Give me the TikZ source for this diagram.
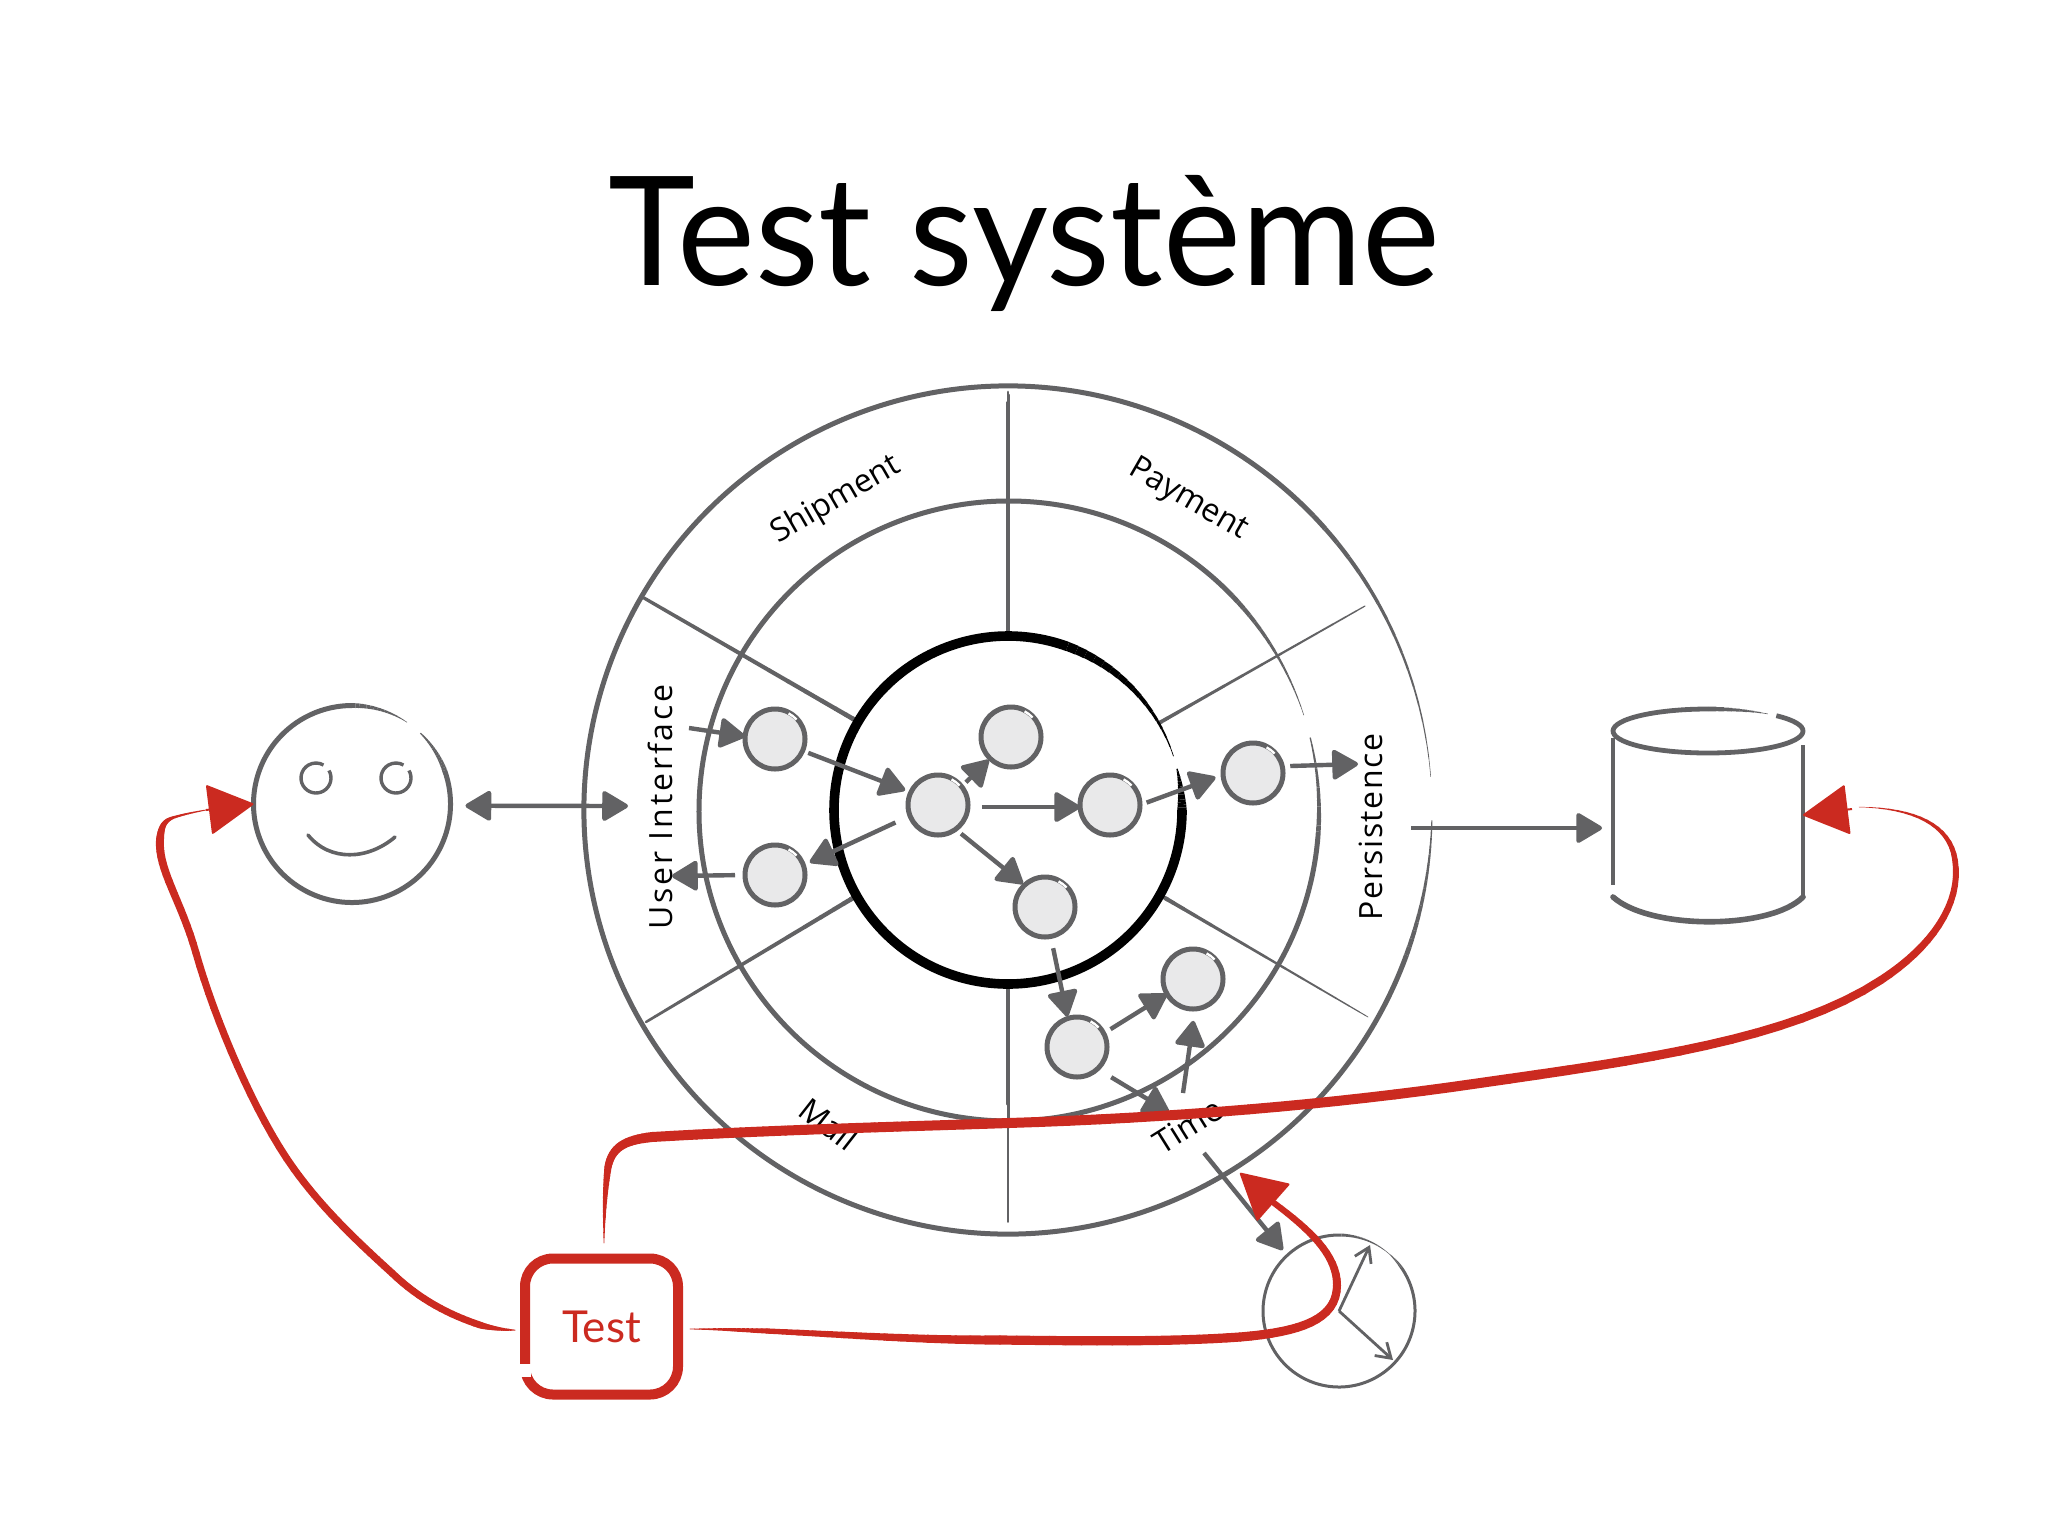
\documentclass[tikz,border=0pt]{standalone}
\usepackage{fontspec}
\setmainfont{Lato}
\newfontfamily\titlefont[FakeStretch=0.97]{Lato}
\newfontfamily\handfont{Open Sans}
\newfontfamily\handwide[LetterSpace=9]{Open Sans}
\newfontfamily\handmid[LetterSpace=5]{Open Sans}
\usetikzlibrary{arrows.meta,calc}
\definecolor{inkgrey}{HTML}{626264}
\definecolor{nodefill}{HTML}{E9E9EA}
\definecolor{brushred}{HTML}{CB2A20}
% tapered brush strokes
\newcommand\brushcurve[7]{%
  \foreach \i in {1,...,16}{%
    \pgfmathsetmacro\myta{(\i-1)/16}\pgfmathsetmacro\mytb{\i/16}%
    \pgfmathsetmacro\mywid{#6+(#7-#6)*(\i-0.5)/16}%
    \path (#2) .. controls (#3) and (#4) .. coordinate[pos=\myta](bA) coordinate[pos=\mytb](bB) (#5);
    \draw[#1,line width=\mywid pt,line cap=round] (bA)--(bB);
  }}
\newcommand\brushline[5]{\brushcurve{#1}{#2}{#2}{#3}{#3}{#4}{#5}}
\newcommand\brusharc[7]{%
  \foreach \i in {1,...,16}{%
    \pgfmathsetmacro\myaa{#4+(#5-#4)*(\i-1)/16}\pgfmathsetmacro\mybb{#4+(#5-#4)*\i/16}%
    \pgfmathsetmacro\mywid{#6+(#7-#6)*(\i-0.5)/16}%
    \draw[#1,line width=\mywid pt] (#2) ++(\myaa:#3) arc[start angle=\myaa,end angle=\mybb,radius=#3];
  }}
\tikzset{
  x=0.5pt,y=-0.5pt,
  ring/.style={draw=inkgrey,line width=2.5pt},
  compnode/.style={circle,draw=inkgrey,fill=nodefill,line width=2.5pt,minimum size=30pt,inner sep=0pt,outer sep=0pt},
  holder/.style={circle,inner sep=0pt,outer sep=0pt},
  arr/.style={draw=inkgrey,line width=2.2pt,-{Triangle[length=14pt,width=16pt,round]}},
  bothways/.style={draw=inkgrey,line width=2.2pt,{Triangle[length=14pt,width=16pt,round]}-{Triangle[length=14pt,width=16pt,round]}},
  hand/.style={draw=inkgrey,line width=1.4pt,-{Straight Barb[length=7pt,width=9pt]}},
  redhead/.style={draw=brushred,line width=1pt,-{Triangle[length=23pt,width=25pt,round]}},
  seglabel/.style={font=\handfont\fontsize{16}{18}\selectfont,text=black,inner sep=0pt},
  testbox/.style={draw=brushred,line width=5pt,rounded corners=14pt,minimum width=76.5pt,minimum height=68pt,inner sep=0pt,outer sep=0pt,
    font=\fontsize{22}{26}\selectfont,text=brushred},
}
\begin{document}
\begin{tikzpicture}
\useasboundingbox[fill=white] (0,0) rectangle (2048,1536);
\node[anchor=base,inner sep=0pt,font=\titlefont\fontsize{76}{90}\selectfont] (title) at (1024,285) {Test système};

% --- system rings
\coordinate (c) at (1008,810);
\draw[ring] (c) ++(20:424) arc[start angle=20,end angle=316,radius=424];
\brusharc{inkgrey}{c}{424}{-44}{-4.5}{2.5}{0.2}
\brusharc{inkgrey}{c}{424}{1.4}{20}{0.5}{2.5}
\coordinate (cm) at (1009,811);
\draw[ring] (cm) ++(5:310) arc[start angle=5,end angle=316,radius=310];
\brusharc{inkgrey}{cm}{310}{-44}{-18}{2.5}{0.2}
\brusharc{inkgrey}{cm}{310}{-13.7}{5}{0.6}{2.5}
% spokes
\brushline{inkgrey}{1008,392}{1008,637}{1.4}{2.4}
\brushline{inkgrey}{1008,986}{1008,1222}{2.4}{0.7}
\brushline{inkgrey}{644,598}{855,720}{1.6}{2.4}
\brushline{inkgrey}{1365,606}{1159,723}{0.5}{2.0}
\brushline{inkgrey}{646,1022}{853,898}{1.2}{2.4}
\brushline{inkgrey}{1165,898}{1368,1017}{2.2}{0.3}
% core
\draw[black,line width=4.8pt] (c) ++(0:174) arc[start angle=0,end angle=290,radius=174];
\brusharc{black}{c}{174}{-70}{-18}{4.8}{0.2}
\brusharc{black}{c}{174}{-13.7}{0}{0.6}{4.8}

% --- segment labels
\node[seglabel,rotate=30] (shipment) at (836,500) {Shipment};
\node[seglabel,rotate=-30] (payment) at (1188,500) {Payment};
\node[seglabel,rotate=90,font=\handwide\fontsize{16}{18}\selectfont] (ui) at (660,807) {User Interface};
\node[seglabel,rotate=90,font=\handmid\fontsize{16}{18}\selectfont] (persistence) at (1371,827) {Persistence};
\node[seglabel,rotate=-38] (mail) at (829,1124) {Mail};
\node[seglabel,rotate=32] (time) at (1188,1126) {Time};

% --- components
\node[compnode] (n1) at (775,739) {};
\node[compnode] (n2) at (775,875) {};
\node[compnode] (n3) at (938,805) {};
\node[compnode] (n4) at (1011,737) {};
\node[compnode] (n5) at (1110,805) {};
\node[compnode] (n6) at (1253,773) {};
\node[compnode] (n7) at (1045,907) {};
\node[compnode] (n8) at (1077,1047) {};
\node[compnode] (n9) at (1193,979) {};
\foreach \n in {n1,n2,n3,n4,n5,n6,n7,n8,n9}
  \draw[white,line width=1.2pt] (\n) ++(-62:29) arc[start angle=-62,end angle=-42,radius=29];

\coordinate (uiin) at (689,728);
\coordinate (uiout) at (672,876);
\coordinate (pout) at (1358,764);
\coordinate (t1) at (1169,1112);
\coordinate (t2) at (1183,1093);
\coordinate (t3) at (1204,1153);
\coordinate (uiedge) at (628,806);
\coordinate (sys) at (1411,828);

% --- actor
\node[holder,minimum size=98.5pt] (actor) at (352,804) {};
\draw[ring] (actor.center) ++(-20:98.5) arc[start angle=-20,end angle=270,radius=98.5];
\brusharc{inkgrey}{actor.center}{98.5}{-90}{-56}{2.5}{0.2}
\brusharc{inkgrey}{actor.center}{98.5}{-46}{-20}{0.6}{2.5}
\coordinate (eyeL) at (316,778);
\coordinate (eyeR) at (396,778);
\foreach \e in {eyeL,eyeR}
  \draw[draw=inkgrey,line width=1.7pt] (\e) ++(-30:15) arc[start angle=-30,end angle=300,radius=15];
\coordinate (smA) at (308,835);
\coordinate (smB) at (395,837);
\draw[draw=inkgrey,line width=1.8pt,line cap=round] (smA) .. controls (330,862) and (368,860) .. (smB);

% --- database
\node[rectangle,inner sep=0pt,outer sep=0pt,minimum width=95pt,minimum height=100pt] (db) at (1708,815) {};
\coordinate (dbtop) at (1708,731);
\draw[draw=inkgrey,line width=2.4pt] (dbtop) ++(-44:95 and 22) arc[start angle=-44,end angle=270,x radius=95,y radius=22];
\foreach \i in {0,...,7}{
  \pgfmathsetmacro\myaa{-90+\i*39/8}\pgfmathsetmacro\mybb{-90+(\i+1)*39/8}\pgfmathsetmacro\mywid{2.4-\i*0.3}
  \draw[draw=inkgrey,line width=\mywid pt] (dbtop) ++(\myaa:95 and 22) arc[start angle=\myaa,end angle=\mybb,x radius=95,y radius=22];
}
\draw[draw=inkgrey,line width=2.4pt] (1613,738) -- (1613,885);
\draw[draw=inkgrey,line width=2.2pt] (1803,745) -- (1803,895);
\draw[draw=inkgrey,line width=2.8pt,line cap=round] (1613,897) .. controls (1650,930) and (1770,930) .. (1803,897);

% --- clock
\node[holder,minimum size=76pt] (clock) at (1339,1311) {};
\draw[draw=inkgrey,line width=1.5pt] (clock.center) ++(-35:76) arc[start angle=-35,end angle=272,radius=76];
\brusharc{inkgrey}{clock.center}{76}{-88}{-50}{1.5}{0.2}
\brusharc{inkgrey}{clock.center}{76}{-50}{-35}{0.2}{1.5}
\coordinate (h1) at (1370,1245);
\coordinate (h2) at (1393,1360);
\draw[hand] (clock.center) -- (h1);
\draw[hand] (clock.center) -- (h2);

% --- grey connectors
\draw[arr] (uiin) -- (n1.175);
\draw[arr,shorten <=3pt,shorten >=3pt] (n1.-23) -- (n3.155);
\draw[arr,shorten <=3pt,shorten >=1pt] (n3.38) -- (n4.-134);
\draw[arr,shorten <=7pt] (n3.-4) -- (n5.-176);
\draw[arr,shorten <=3.5pt,shorten >=4pt] (n5.0) -- (n6.183);
\draw[arr,shorten <=4pt] (n6.13) -- (pout);
\draw[arr,shorten <=8pt,shorten >=3.5pt] (n3.201) -- (n2.19);
\draw[arr,shorten <=5pt] (n2.180) -- (uiout);
\draw[arr,shorten <=3.5pt,shorten >=1pt] (n3.-54) -- (n7.133);
\draw[arr,shorten <=6pt,shorten >=1pt] (n7.-79) -- (n8.108);
\draw[arr,shorten <=4pt] (n8.27) -- (n9.210);
\draw[arr,shorten <=8pt] (n8.-47) -- (t1);
\draw[arr,shorten >=6pt] (t2) -- (n9.-86);
\draw[arr,shorten >=3.5pt] (t3) -- (clock.133);
\draw[bothways,shorten <=7.5pt] (actor.-1) -- (uiedge);
\draw[arr,shorten >=5.5pt] (sys) -- (sys -| db.west);

% --- test box and red connectors
\node[testbox] (test) at (601.5,1326.5) {\raisebox{-1.5pt}{Test}};
\draw[white,line width=6pt] (525,1364) -- (525,1377);

\coordinate (rs) at (604,1243);
\coordinate (r1) at (608,1167);
\coordinate (r2) at (652,1137);
\coordinate (r3) at (1009,1123);
\coordinate (r4) at (1480,1083);
\coordinate (r5) at (1881,980);
\coordinate (r6) at (1955,860);
\coordinate (r7) at (1859,807);
\coordinate (r8) at (1852,809);
\brushcurve{brushred}{rs}{604,1215}{605,1190}{r1}{0.3}{3.6}
\brushcurve{brushred}{r1}{612,1147}{625,1140}{r2}{3.6}{5}
\brushcurve{brushred}{r2}{770,1130}{890,1127}{r3}{5}{5}
\brushcurve{brushred}{r3}{1170,1118}{1330,1105}{r4}{5}{5}
\brushcurve{brushred}{r4}{1640,1060}{1790,1040}{r5}{5}{4}
\brushcurve{brushred}{r5}{1930,948}{1962,905}{r6}{4}{2.8}
\brushcurve{brushred}{r6}{1950,825}{1915,808}{r7}{2.8}{0.15}
\draw[redhead] (r8) -- (db.east);

\coordinate (a0) at (515,1330);
\coordinate (a1) at (480,1325);
\coordinate (a2) at (392,1273);
\coordinate (a3) at (294,1169);
\coordinate (a4) at (196,953);
\coordinate (a5) at (160,840);
\coordinate (a6) at (175,817);
\coordinate (a7) at (206,810);
\brushcurve{brushred}{a0}{505,1330}{490,1328}{a1}{0.4}{3.4}
\brushcurve{brushred}{a1}{450,1315}{420,1300}{a2}{3.4}{3.6}
\brushcurve{brushred}{a2}{350,1235}{320,1205}{a3}{3.6}{3.6}
\brushcurve{brushred}{a3}{255,1115}{215,1020}{a4}{3.6}{3.6}
\brushcurve{brushred}{a4}{181,900}{158,870}{a5}{3.6}{4}
\brushcurve{brushred}{a5}{161,825}{165,820}{a6}{4}{1.2}
\brushcurve{brushred}{a6}{185,814}{195,812}{a7}{1.2}{0.4}
\draw[redhead] (a7) -- (actor.west);

\coordinate (b0) at (690,1329);
\coordinate (b1) at (767,1331);
\coordinate (b2) at (1000,1340);
\coordinate (b3) at (1240,1337);
\coordinate (b4) at (1337,1285);
\coordinate (b5) at (1274,1203);
\coordinate (b6) at (1240,1173);
\brushcurve{brushred}{b0}{715,1329}{740,1330}{b1}{0.3}{2.6}
\brushcurve{brushred}{b1}{850,1335}{920,1340}{b2}{2.6}{4.6}
\brushcurve{brushred}{b2}{1090,1341}{1170,1342}{b3}{4.6}{4.6}
\brushcurve{brushred}{b3}{1300,1332}{1337,1320}{b4}{4.6}{4}
\brushcurve{brushred}{b4}{1337,1255}{1310,1230}{b5}{4}{3}
\draw[redhead] (b5) -- (b6);
\end{tikzpicture}
\end{document}
